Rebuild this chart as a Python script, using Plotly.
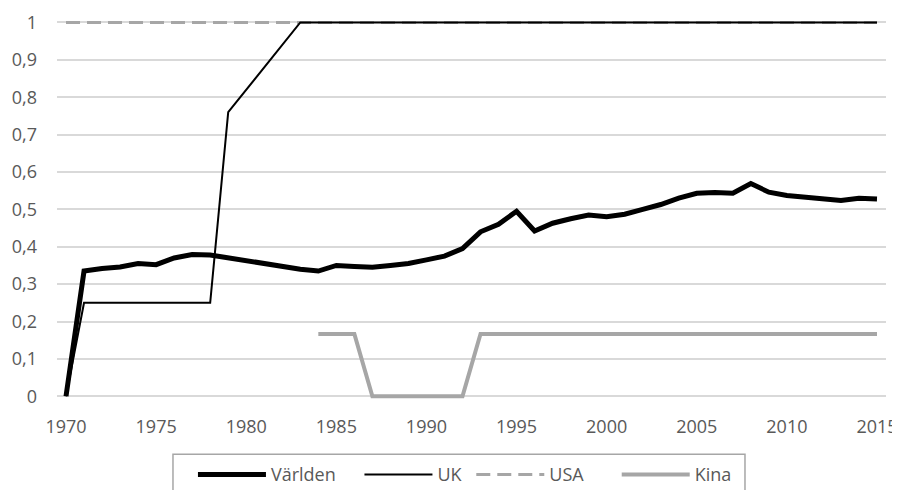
import plotly.graph_objects as go

years = list(range(1970, 2016))

varlden = [0, 0.335, 0.342, 0.346, 0.355, 0.352, 0.37, 0.379, 0.378, 0.37,
           0.362, 0.355, 0.348, 0.34, 0.335, 0.35, 0.347, 0.345, 0.35, 0.355,
           0.365, 0.375, 0.395, 0.44, 0.46, 0.495, 0.442, 0.463, 0.475, 0.485,
           0.48, 0.487, 0.5, 0.513, 0.53, 0.543, 0.545, 0.543, 0.569, 0.546,
           0.537, 0.533, 0.527, 0.524, 0.53, 0.528]

uk = [0] + [0.25] * 8 + [0.76, 0.82, 0.88, 0.94] + [1] * 33

usa = [1] * 46

kina_years = list(range(1984, 2016))
kina = [1/6] * 3 + [0] * 6 + [1/6] * 23

grey_txt = "#595959"
font = "Open Sans"
nb = "\u00a0"  # padding so legend entries spread like the original

fig = go.Figure()

fig.add_trace(go.Scatter(x=years, y=usa, mode="lines", name="USA" + nb * 6,
                         line=dict(color="#a6a6a6", width=3, dash="14px,7px"),
                         legendrank=3))
fig.add_trace(go.Scatter(x=kina_years, y=kina, mode="lines", name="Kina",
                         line=dict(color="#a6a6a6", width=4),
                         legendrank=4))
fig.add_trace(go.Scatter(x=years, y=uk, mode="lines", name="UK" + nb,
                         line=dict(color="black", width=2),
                         legendrank=2))
fig.add_trace(go.Scatter(x=years, y=varlden, mode="lines", name="Världen" + nb * 4,
                         line=dict(color="black", width=5),
                         legendrank=1))

# legend frame
fig.add_shape(type="rect", xref="paper", yref="paper",
              x0=0.1399, x1=0.8299, y0=-0.141, y1=-0.27,
              line=dict(color="#a6a6a6", width=1.5), fillcolor="rgba(0,0,0,0)")

fig.update_layout(
    width=892, height=482,
    paper_bgcolor="white", plot_bgcolor="white",
    separators=", ",
    margin=dict(l=49, r=14, t=6.5, b=90.3, autoexpand=False),
    font=dict(family=font, size=18, color=grey_txt),
    xaxis=dict(range=[1969.5, 2015.5], tickvals=list(range(1970, 2016, 5)),
               showgrid=False, zeroline=False, showline=False,
               ticks="", ticklabelstandoff=14,
               tickfont=dict(size=18, color=grey_txt)),
    yaxis=dict(range=[-0.01, 1.02], tickvals=[i / 10 for i in range(11)],
               showgrid=True, gridcolor="#d9d9d9", gridwidth=1.5,
               zeroline=False, showline=False, ticks="", ticklabelstandoff=19,
               tickfont=dict(size=18, color=grey_txt)),
    legend=dict(orientation="h", x=0.164, xanchor="left",
                y=-0.146, yanchor="top",
                bgcolor="rgba(0,0,0,0)", borderwidth=0,
                itemwidth=68,
                traceorder="normal",
                font=dict(size=18, color=grey_txt)),
    showlegend=True,
)

fig.write_html("out.html")
